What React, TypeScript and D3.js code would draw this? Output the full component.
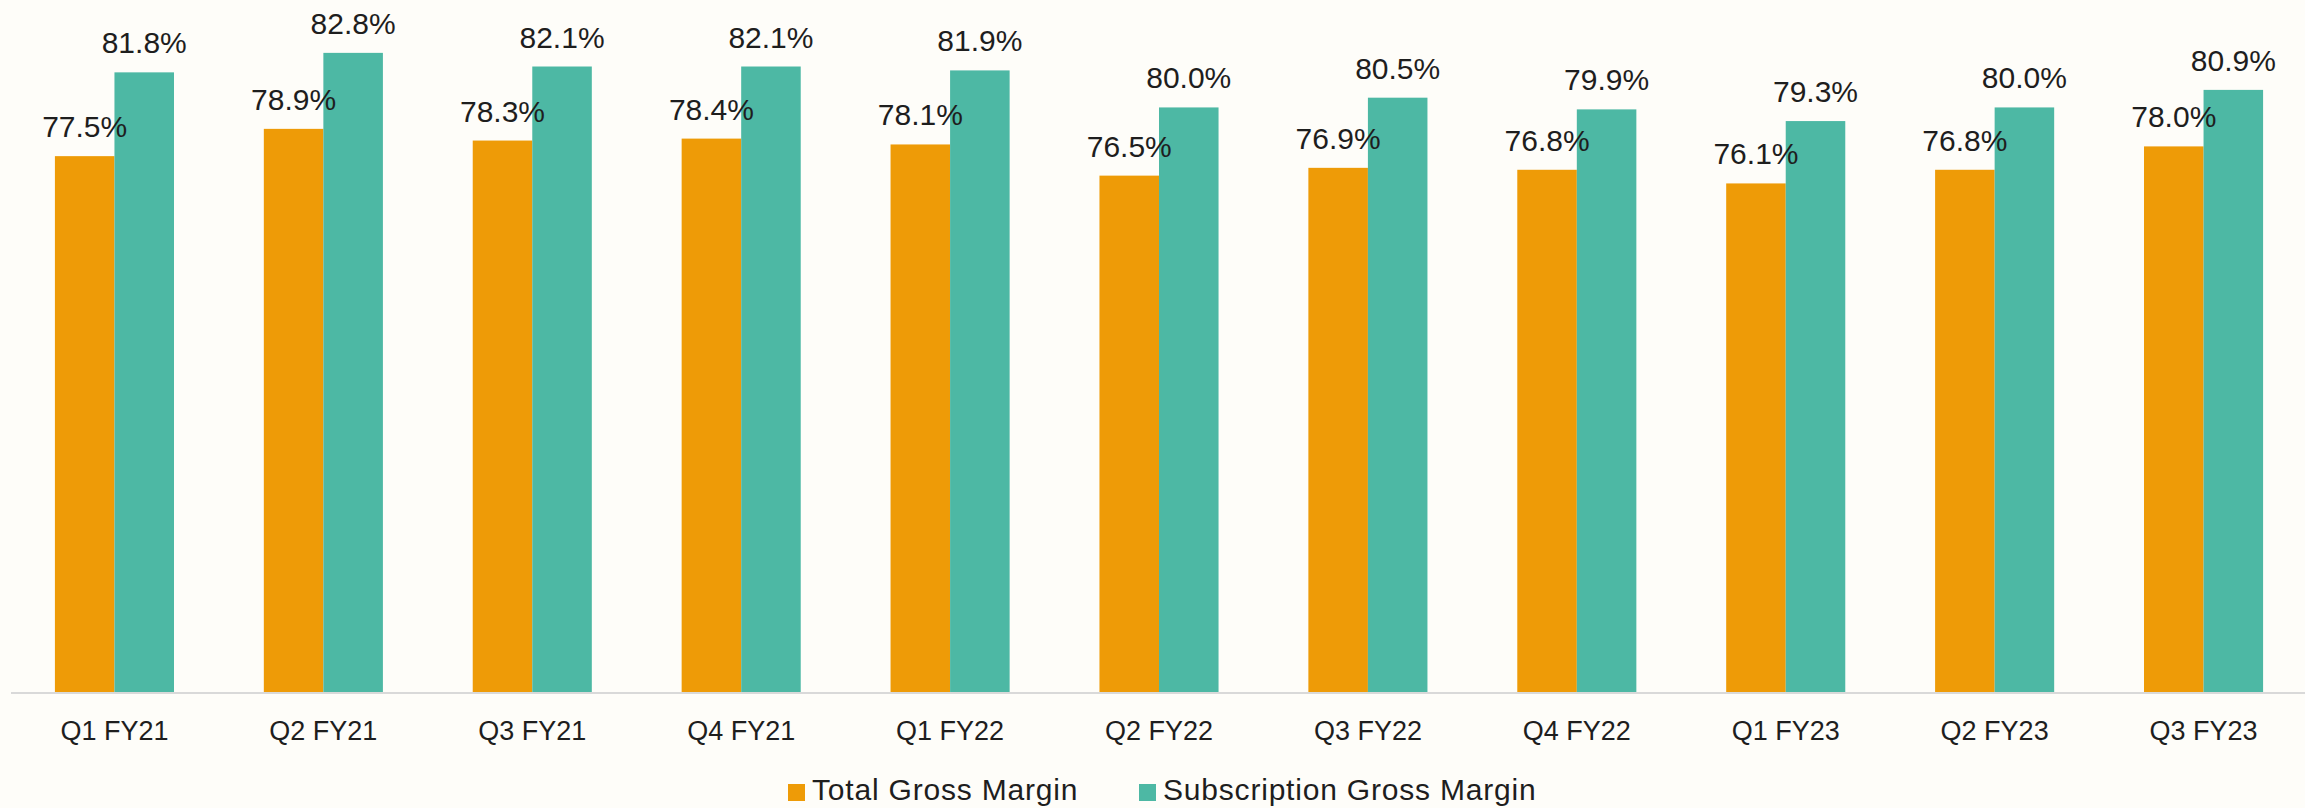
import { useEffect, useRef } from "react";
import * as d3 from "d3";

const categories = [
  "Q1 FY21", "Q2 FY21", "Q3 FY21", "Q4 FY21", "Q1 FY22", "Q2 FY22",
  "Q3 FY22", "Q4 FY22", "Q1 FY23", "Q2 FY23", "Q3 FY23",
];
const totalGrossMargin = [77.5, 78.9, 78.3, 78.4, 78.1, 76.5, 76.9, 76.8, 76.1, 76.8, 78.0];
const subscriptionGrossMargin = [81.8, 82.8, 82.1, 82.1, 81.9, 80.0, 80.5, 79.9, 79.3, 80.0, 80.9];
const seriesNames = ["Total Gross Margin", "Subscription Gross Margin"];
const colors = ["#EE9B07", "#4DB8A4"];

const width = 2305;
const height = 808;
const font = "'Liberation Sans', Arial, sans-serif";

export default function App() {
  const svgRef = useRef<SVGSVGElement>(null);

  useEffect(() => {
    const svg = d3.select(svgRef.current);
    svg.selectAll("*").remove();

    const baseline = 692;
    const x = d3.scaleBand<string>()
      .domain(categories)
      .range([10, 2308])
      .paddingInner(0.43)
      .paddingOuter(0.215);
    const x1 = d3.scaleBand<number>()
      .domain([0, 1])
      .range([0, x.bandwidth()]);
    const y = d3.scaleLinear().domain([50, 85]).range([baseline, 10]);

    svg.append("rect").attr("width", width).attr("height", height).attr("fill", "#FEFDF9");

    const series = [totalGrossMargin, subscriptionGrossMargin];
    const rows = categories.map((c, i) => ({ c, vals: series.map((s) => s[i]) }));

    const groups = svg.selectAll("g.cat")
      .data(rows)
      .enter()
      .append("g")
      .attr("class", "cat")
      .attr("transform", (d) => `translate(${x(d.c)},0)`);

    groups.selectAll("rect")
      .data((d) => d.vals.map((v, k) => ({ v, k })))
      .enter()
      .append("rect")
      .attr("x", (d) => x1(d.k)!)
      .attr("y", (d) => y(d.v))
      .attr("width", x1.bandwidth())
      .attr("height", (d) => baseline - y(d.v))
      .attr("fill", (d) => colors[d.k]);

    groups.selectAll("text.val")
      .data((d) => d.vals.map((v, k) => ({ v, k })))
      .enter()
      .append("text")
      .attr("class", "val")
      .attr("x", (d) => x1(d.k)! + x1.bandwidth() / 2)
      .attr("y", (d) => y(d.v) - 19)
      .attr("text-anchor", "middle")
      .attr("font-family", font)
      .attr("font-size", 30)
      .attr("fill", "#1E1E1E")
      .text((d) => d.v.toFixed(1) + "%");

    // axis line
    svg.append("line")
      .attr("x1", 11)
      .attr("x2", width)
      .attr("y1", baseline + 1)
      .attr("y2", baseline + 1)
      .attr("stroke", "#D9D9D9")
      .attr("stroke-width", 2);

    // category labels
    svg.selectAll("text.cat")
      .data(categories)
      .enter()
      .append("text")
      .attr("class", "cat")
      .attr("x", (d) => x(d)! + x.bandwidth() / 2)
      .attr("y", 740)
      .attr("text-anchor", "middle")
      .attr("font-family", font)
      .attr("font-size", 27)
      .attr("fill", "#1E1E1E")
      .text((d) => d);

    // legend
    const legendX = [788, 1139];
    const legend = svg.selectAll("g.legend")
      .data(seriesNames)
      .enter()
      .append("g")
      .attr("class", "legend")
      .attr("transform", (_, i) => `translate(${legendX[i]},784)`);
    legend.append("rect")
      .attr("width", 17)
      .attr("height", 17)
      .attr("fill", (_, i) => colors[i]);
    legend.append("text")
      .attr("x", 24)
      .attr("y", 16)
      .attr("font-family", font)
      .attr("font-size", 30)
      .attr("letter-spacing", 0.8)
      .attr("fill", "#1E1E1E")
      .text((d) => d);
  }, []);

  return (
    <svg
      ref={svgRef}
      width={width}
      height={height}
      style={{ position: "absolute", left: 0, top: 0, display: "block" }}
    />
  );
}
